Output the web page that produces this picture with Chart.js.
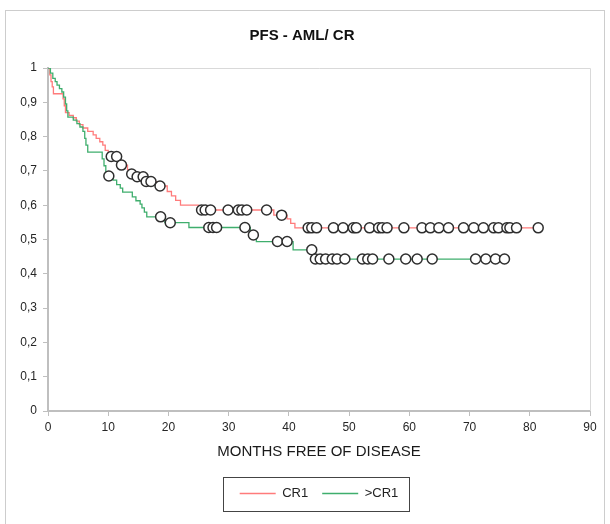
<!DOCTYPE html>
<html>
<head>
<meta charset="utf-8">
<title>PFS - AML/ CR</title>
<script src="https://cdn.jsdelivr.net/npm/chart.js@4.4.1/dist/chart.umd.min.js"></script>
<style>
  html, body { margin: 0; padding: 0; background: #fff; }
  #wrap { position: relative; width: 610px; height: 524px; overflow: hidden; }
  #frame { position: absolute; left: 5px; top: 10px; width: 600px; height: 540px; border: 1px solid #cdcdcd; box-sizing: border-box; }
  #chart { position: absolute; left: 0; top: 0; }
</style>
</head>
<body>
<div id="wrap">
  <div id="frame"></div>
  <canvas id="chart" width="610" height="524"></canvas>
</div>
<script>
// CR1: event times (months) and survival after each event
const cr1Times = [0, 0.3, 0.5, 0.7, 0.9, 2.5, 2.7, 2.9, 3.5, 4.2, 4.7, 5.2, 5.8, 6.6, 7.5, 8.0, 8.6, 9.1,
  9.5, 10.0, 11.8, 12.0, 13.2, 13.6, 14.5, 16.1, 18.2, 19.8, 20.5, 21.2, 22.0, 25.0, 37.5, 39.7, 40.3, 41.0];
const cr1Surv = [1, 0.98, 0.96, 0.945, 0.925, 0.91, 0.89, 0.87, 0.862, 0.855, 0.845, 0.835, 0.825, 0.815, 0.805, 0.795, 0.785, 0.775,
  0.76, 0.742, 0.729, 0.717, 0.704, 0.691, 0.683, 0.669, 0.656, 0.64, 0.627, 0.614, 0.6, 0.586, 0.571, 0.56, 0.547, 0.534];
const cr1Censored = [10.5, 11.4, 12.2, 13.9, 14.8, 15.8, 16.3, 17.1, 18.6, 25.5, 26.1, 27.0, 29.9, 31.6, 32.2, 33.0,
  36.3, 38.8, 43.2, 43.8, 44.6, 47.4, 49.0, 50.7, 51.2, 53.4, 54.9, 55.5, 56.3, 59.1, 62.1, 63.5, 64.9, 66.5,
  69.0, 70.7, 72.3, 74.0, 74.8, 76.2, 76.7, 77.8, 81.4];

// >CR1
const gtCr1Times = [0, 0.4, 0.8, 1.2, 1.5, 1.9, 2.3, 2.6, 2.9, 3.1, 3.3, 4.2, 4.8, 5.3, 5.8, 6.1, 6.3, 6.6, 9.0,
  9.3, 9.6, 9.9, 10.8, 11.4, 12.0, 12.4, 14.0, 14.6, 15.3, 15.6, 16.0, 16.4, 19.4, 23.4, 33.6, 34.6, 40.7, 44.1];
const gtCr1Surv = [1, 0.985, 0.97, 0.96, 0.95, 0.94, 0.93, 0.915, 0.895, 0.875, 0.857, 0.848, 0.838, 0.828, 0.815, 0.795, 0.775, 0.755, 0.735,
  0.715, 0.697, 0.685, 0.673, 0.66, 0.65, 0.638, 0.624, 0.613, 0.603, 0.592, 0.58, 0.566, 0.549, 0.535, 0.513, 0.494, 0.47, 0.443];
const gtCr1Censored = [10.1, 18.7, 20.3, 26.7, 27.4, 28.0, 32.7, 34.1, 38.1, 39.7, 43.8, 44.4, 45.2, 46.1, 47.2,
  48.0, 49.3, 52.2, 53.1, 53.9, 56.6, 59.4, 61.3, 63.8, 71.0, 72.7, 74.3, 75.8];

const yTickLabels = ['0', '0,1', '0,2', '0,3', '0,4', '0,5', '0,6', '0,7', '0,8', '0,9', '1'];

const FONT = 'Liberation Sans, Arial, sans-serif';
const RED = '#ff7b7b';
const GREEN = '#3fae6d';

/** Survival level of a step curve at time t. */
function survivalAt(times, surv, t) {
  let s = surv[0];
  times.forEach((tt, i) => { if (tt <= t) s = surv[i]; });
  return s;
}

/** Step curve points, carried on to the last censored case. */
function curvePoints(times, surv, censored) {
  const pts = times.map((t, i) => ({ x: t, y: surv[i] }));
  const last = Math.max(...censored);
  if (last > times[times.length - 1]) pts.push({ x: last, y: surv[surv.length - 1] });
  return pts;
}

function censorPoints(times, surv, censored) {
  return censored.map(t => ({ x: t, y: survivalAt(times, surv, t) }));
}

// light box on the top and right of the plot area
const plotFrame = {
  id: 'plotFrame',
  beforeDatasetsDraw(chart) {
    const { ctx, chartArea: a } = chart;
    ctx.save();
    ctx.strokeStyle = '#d9d9d9';
    ctx.lineWidth = 1;
    ctx.beginPath();
    ctx.moveTo(a.left, Math.round(a.top) + 0.5);
    ctx.lineTo(Math.round(a.right) + 0.5, Math.round(a.top) + 0.5);
    ctx.lineTo(Math.round(a.right) + 0.5, a.bottom);
    ctx.stroke();
    ctx.restore();
  }
};

// border round the legend, like the original
const legendBox = {
  id: 'legendBox',
  afterDraw(chart) {
    const boxes = chart.legend?.legendHitBoxes || [];
    if (!boxes.length) return;
    const { ctx } = chart;
    const left = Math.min(...boxes.map(b => b.left));
    const right = Math.max(...boxes.map(b => b.left + b.width));
    const mid = boxes[0].top + boxes[0].height / 2;
    ctx.save();
    ctx.strokeStyle = '#444';
    ctx.lineWidth = 1;
    ctx.strokeRect(Math.round(left - 17) + 0.5, Math.round(mid - 17) + 0.5, Math.round(right - left + 27), 34);
    ctx.restore();
  }
};

const lineStyle = { showLine: true, stepped: 'before', borderWidth: 1.3, pointRadius: 0, fill: false };
const censorStyle = {
  showLine: false, pointRadius: 5, pointHoverRadius: 5, pointBorderWidth: 1.5,
  pointBorderColor: '#2e2e2e', pointBackgroundColor: '#fff', order: 1
};

new Chart(document.getElementById('chart'), {
  type: 'scatter',
  data: {
    datasets: [
      { label: 'CR1', data: curvePoints(cr1Times, cr1Surv, cr1Censored), borderColor: RED, backgroundColor: RED, order: 3, ...lineStyle },
      { label: '>CR1', data: curvePoints(gtCr1Times, gtCr1Surv, gtCr1Censored), borderColor: GREEN, backgroundColor: GREEN, order: 2, ...lineStyle },
      { label: 'CR1 censored', data: censorPoints(cr1Times, cr1Surv, cr1Censored), ...censorStyle },
      { label: '>CR1 censored', data: censorPoints(gtCr1Times, gtCr1Surv, gtCr1Censored), ...censorStyle }
    ]
  },
  options: {
    responsive: false,
    animation: false,
    layout: { padding: { left: 14, right: 20, top: 0, bottom: 14 } },
    plugins: {
      title: {
        display: true,
        text: 'PFS - AML/ CR',
        color: '#111',
        font: { family: FONT, size: 15, weight: 'bold' },
        padding: { top: 27, bottom: 23 }
      },
      legend: {
        position: 'bottom',
        fullSize: false,
        labels: {
          usePointStyle: true,
          pointStyle: 'line',
          pointStyleWidth: 36,
          color: '#222',
          font: { family: FONT, size: 13 },
          padding: 14,
          filter: item => item.datasetIndex < 2,
          sort: (a, b) => a.datasetIndex - b.datasetIndex
        }
      },
      tooltip: { enabled: false }
    },
    scales: {
      x: {
        type: 'linear',
        min: 0,
        max: 90,
        ticks: { stepSize: 10, color: '#262626', font: { family: FONT, size: 12 }, padding: 4 },
        grid: { drawOnChartArea: false, tickLength: 5, color: '#bfbfbf' },
        border: { color: '#bfbfbf', width: 2 },
        title: {
          display: true,
          text: 'MONTHS FREE OF DISEASE',
          color: '#1a1a1a',
          font: { family: FONT, size: 15 },
          padding: { top: 4, bottom: 12 }
        },
        afterFit(scale) { scale.height = 62; }
      },
      y: {
        min: 0,
        max: 1,
        ticks: {
          stepSize: 0.1,
          color: '#262626',
          font: { family: FONT, size: 12 },
          padding: 6,
          callback: (v, i) => yTickLabels[i]
        },
        grid: { drawOnChartArea: false, tickLength: 5, color: '#bfbfbf' },
        border: { color: '#bfbfbf', width: 2 },
        afterFit(scale) { scale.width = 34; }
      }
    }
  },
  plugins: [plotFrame, legendBox]
});
</script>
</body>
</html>
